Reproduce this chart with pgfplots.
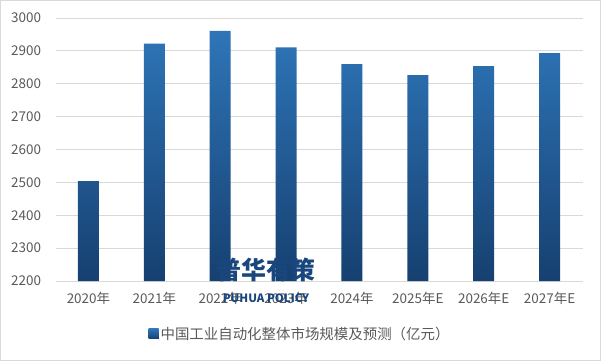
\documentclass[border=0pt]{standalone}
\usepackage{pgfplots}
\pgfplotsset{compat=1.18}
\usepackage{fontspec}
\setmainfont{Noto Sans CJK SC}
\definecolor{bartop}{RGB}{46,117,184}
\definecolor{barbot}{RGB}{22,64,112}
\definecolor{txt}{RGB}{89,89,89}
\definecolor{gridc}{RGB}{217,217,217}
\definecolor{wm}{RGB}{25,70,125}
\begin{document}
\begin{tikzpicture}[x=1bp,y=1bp]
\useasboundingbox (0,0) rectangle (601,361);
\draw[color=gridc, line width=1bp] (0.5,0.5) rectangle (600.5,360.5);
\begin{axis}[
  at={(55.5bp,80bp)}, anchor=south west,
  scale only axis, width=527bp, height=263bp,
  xmin=-0.5, xmax=7.5, ymin=2200, ymax=3000,
  ytick={2200,2300,...,3000},
  xtick=data,
  xticklabels={2020年,2021年,2022年,2023年,2024年,2025年E,2026年E,2027年E},
  axis line style={draw=none},
  major tick length=0pt,
  ymajorgrids, grid style={color=gridc, line width=0.8bp},
  tick label style={font=\fontsize{13.5}{15}\selectfont, text=txt},
  /pgf/number format/assume math mode=true,
  /pgf/number format/1000 sep={},
  yticklabel style={xshift=-11bp},
  xticklabel style={yshift=-8bp},
  legend style={at={(0.464,-0.2015)}, anchor=center, draw=none, fill=none,
    font=\fontsize{14.5}{16}\selectfont, text=txt},
  legend image code/.code={\fill[top color=bartop, bottom color=barbot] (0bp,-5bp) rectangle (10bp,5bp);},
]
\addplot[ybar, bar width=21bp, draw=none, top color=bartop, bottom color=barbot]
  coordinates {(0,2504) (1,2922) (2,2961) (3,2911) (4,2860) (5,2826) (6,2854) (7,2893)};
\addlegendentry{中国工业自动化整体市场规模及预测（亿元）}
\end{axis}
\node[text=wm, font=\fontsize{25}{27}\selectfont\bfseries, inner sep=0] at (266,91) {普华有策};
\node[text=wm, font=\fontsize{11.5}{12}\selectfont\bfseries, inner sep=0] at (266,63) {PUHUA POLICY};
\end{tikzpicture}
\end{document}
